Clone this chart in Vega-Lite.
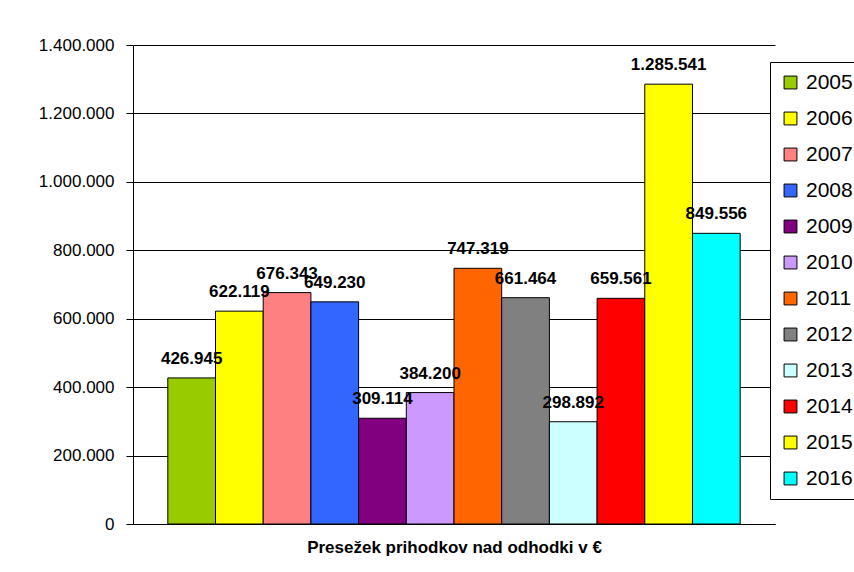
{
  "$schema": "https://vega.github.io/schema/vega-lite/v6.json",
  "autosize": {"type": "none"},
  "padding": {"left": 133, "top": 45, "right": 79, "bottom": 48},
  "width": 642,
  "height": 479,
  "background": "white",
  "config": {
    "locale": {"number": {"decimal": ",", "thousands": ".", "grouping": [3], "currency": ["", " €"]}},
    "font": "Liberation Sans",
    "view": {"stroke": null}
  },
  "data": {
    "values": [
      {"leto": "2005", "presezek": 426945},
      {"leto": "2006", "presezek": 622119},
      {"leto": "2007", "presezek": 676343},
      {"leto": "2008", "presezek": 649230},
      {"leto": "2009", "presezek": 309114},
      {"leto": "2010", "presezek": 384200},
      {"leto": "2011", "presezek": 747319},
      {"leto": "2012", "presezek": 661464},
      {"leto": "2013", "presezek": 298892},
      {"leto": "2014", "presezek": 659561},
      {"leto": "2015", "presezek": 1285541},
      {"leto": "2016", "presezek": 849556}
    ]
  },
  "encoding": {
    "x": {
      "field": "leto",
      "type": "nominal",
      "scale": {"paddingInner": 0, "paddingOuter": 0.73},
      "axis": {
        "title": "Presežek prihodkov nad odhodki v €",
        "titleFont": "Liberation Sans",
        "titleFontSize": 17,
        "titleFontWeight": "bold",
        "titleColor": "black",
        "titlePadding": 15,
        "labels": false,
        "ticks": false,
        "domain": true,
        "domainColor": "black",
        "domainWidth": 1
      }
    },
    "y": {
      "field": "presezek",
      "type": "quantitative",
      "scale": {"domain": [0, 1400000], "nice": false},
      "axis": {
        "title": null,
        "values": [0, 200000, 400000, 600000, 800000, 1000000, 1200000, 1400000],
        "format": ",.0f",
        "labelFont": "Liberation Sans",
        "labelFontSize": 17,
        "labelColor": "black",
        "labelPadding": 12,
        "tickSize": 7,
        "tickColor": "black",
        "domainColor": "black",
        "grid": true,
        "gridColor": "black",
        "gridWidth": 1,
        "gridOpacity": 1
      }
    }
  },
  "layer": [
    {
      "mark": {"type": "bar", "stroke": "black", "strokeWidth": 1},
      "encoding": {
        "color": {
          "field": "leto",
          "type": "nominal",
          "scale": {
            "domain": ["2005", "2006", "2007", "2008", "2009", "2010", "2011", "2012", "2013", "2014", "2015", "2016"],
            "range": ["#99CC00", "#FFFF00", "#FF8080", "#3366FF", "#800080", "#CC99FF", "#FF6600", "#808080", "#CCFFFF", "#FF0000", "#FFFF00", "#00FFFF"]
          },
          "legend": {
            "title": null,
            "orient": "none",
            "legendX": 637,
            "legendY": 17,
            "padding": 10,
            "strokeColor": "black",
            "fillColor": "white",
            "symbolType": "square",
            "symbolSize": 165,
            "symbolStrokeColor": "black",
            "symbolStrokeWidth": 1,
            "symbolOpacity": 1,
            "labelFont": "Liberation Sans",
            "labelFontSize": 21,
            "labelColor": "black",
            "labelOffset": 5,
            "rowPadding": 14,
            "cornerRadius": 0
          }
        }
      }
    },
    {
      "mark": {"type": "text", "baseline": "alphabetic", "dy": -14, "fontWeight": "bold", "fontSize": 17, "font": "Liberation Sans", "color": "black"},
      "encoding": {
        "text": {"field": "presezek", "type": "quantitative", "format": ",.0f"}
      }
    }
  ]
}
